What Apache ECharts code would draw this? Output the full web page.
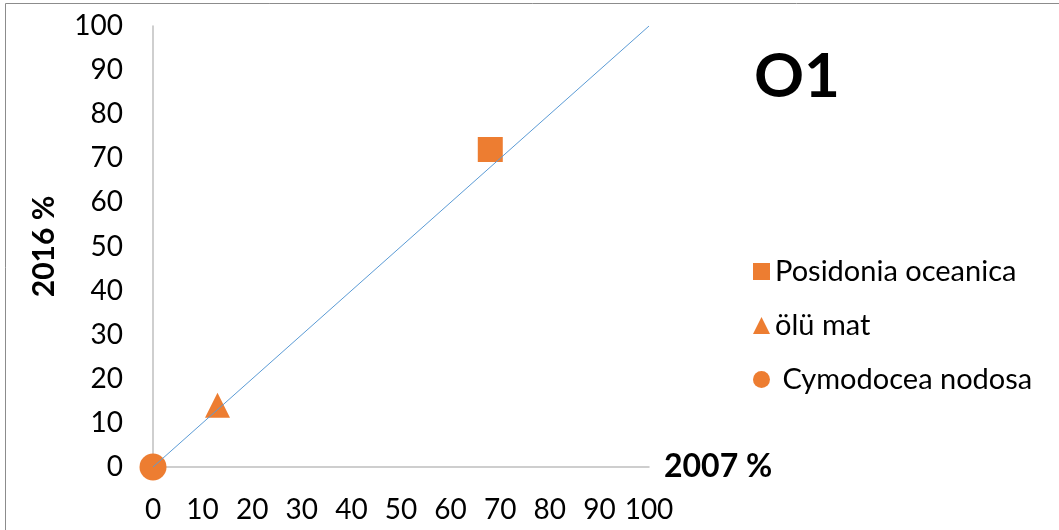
<!DOCTYPE html>
<html>
<head>
<meta charset="utf-8">
<script src="https://cdn.jsdelivr.net/npm/echarts@6/dist/echarts.min.js"></script>
<style>
  html, body { margin: 0; padding: 0; background: #fff; }
  #chart { width: 1059px; height: 530px; }
</style>
</head>
<body>
<div id="chart"></div>
<script>
// values (2007 % vs 2016 %)
const seriesNames = ['Posidonia oceanica', 'ölü mat', 'Cymodocea nodosa'];
const posidonia = [[68, 72]];
const oluMat = [[13, 14]];
const cymodocea = [[0, 0]];
const refLine = [[0, 0], [100, 100]];
const axisTicks = [0, 10, 20, 30, 40, 50, 60, 70, 80, 90, 100];

const orange = '#ed7d31';
const font = 'Lato, "Noto Sans", sans-serif';

const chart = echarts.init(document.getElementById('chart'));

const option = {
  backgroundColor: '#fff',
  animation: false,
  textStyle: { fontFamily: font },
  graphic: [
    {
      type: 'rect',
      shape: { x: 5.5, y: 3.5, width: 1070, height: 540 },
      style: { fill: 'none', stroke: '#8c8c8c', lineWidth: 1 }
    },
    {
      type: 'text',
      left: 754,
      top: 46,
      style: { text: 'O1', font: 'bold 62px ' + font, fill: '#000' }
    }
  ],
  grid: { left: 153, right: 410, top: 26, bottom: 63 },
  legend: {
    orient: 'vertical',
    left: 748,
    top: 252,
    itemGap: 25,
    itemWidth: 17,
    itemHeight: 17,
    textStyle: { fontSize: 29, color: '#000', fontFamily: font },
    formatter: name => (name === seriesNames[2] ? ' ' + name : name),
    data: seriesNames
  },
  xAxis: {
    type: 'value',
    min: axisTicks[0],
    max: axisTicks[axisTicks.length - 1],
    interval: 10,
    name: '2007 %',
    nameLocation: 'end',
    nameGap: 15,
    nameTextStyle: { fontSize: 32, fontWeight: 'bold', color: '#000', verticalAlign: 'middle' },
    axisLine: { show: true, lineStyle: { color: '#bfbfbf', width: 1.5 } },
    axisTick: { show: false },
    splitLine: { show: false },
    axisLabel: { fontSize: 28, color: '#000', margin: 29 }
  },
  yAxis: {
    type: 'value',
    min: axisTicks[0],
    max: axisTicks[axisTicks.length - 1],
    interval: 10,
    name: '2016 %',
    nameLocation: 'middle',
    nameRotate: 90,
    nameGap: 94,
    nameTextStyle: { fontSize: 30, fontWeight: 'bold', color: '#000' },
    axisLine: { show: true, lineStyle: { color: '#bfbfbf', width: 1.5 } },
    axisTick: { show: false },
    splitLine: { show: false },
    axisLabel: { fontSize: 28, color: '#000', margin: 30 }
  },
  series: [
    {
      name: 'line',
      type: 'line',
      data: refLine,
      symbol: 'none',
      lineStyle: { color: '#5b9bd5', width: 1 },
      z: 3
    },
    {
      name: seriesNames[0],
      type: 'scatter',
      data: posidonia,
      symbol: 'rect',
      symbolSize: 25,
      itemStyle: { color: orange, opacity: 1 },
      z: 2
    },
    {
      name: seriesNames[1],
      type: 'scatter',
      data: oluMat,
      symbol: 'triangle',
      symbolSize: 25,
      itemStyle: { color: orange, opacity: 1 },
      z: 2
    },
    {
      name: seriesNames[2],
      type: 'scatter',
      data: cymodocea,
      symbol: 'circle',
      symbolSize: 27,
      itemStyle: { color: orange, opacity: 1 },
      z: 2
    }
  ]
};

chart.setOption(option);
window.addEventListener('resize', () => chart.resize());
</script>
</body>
</html>
